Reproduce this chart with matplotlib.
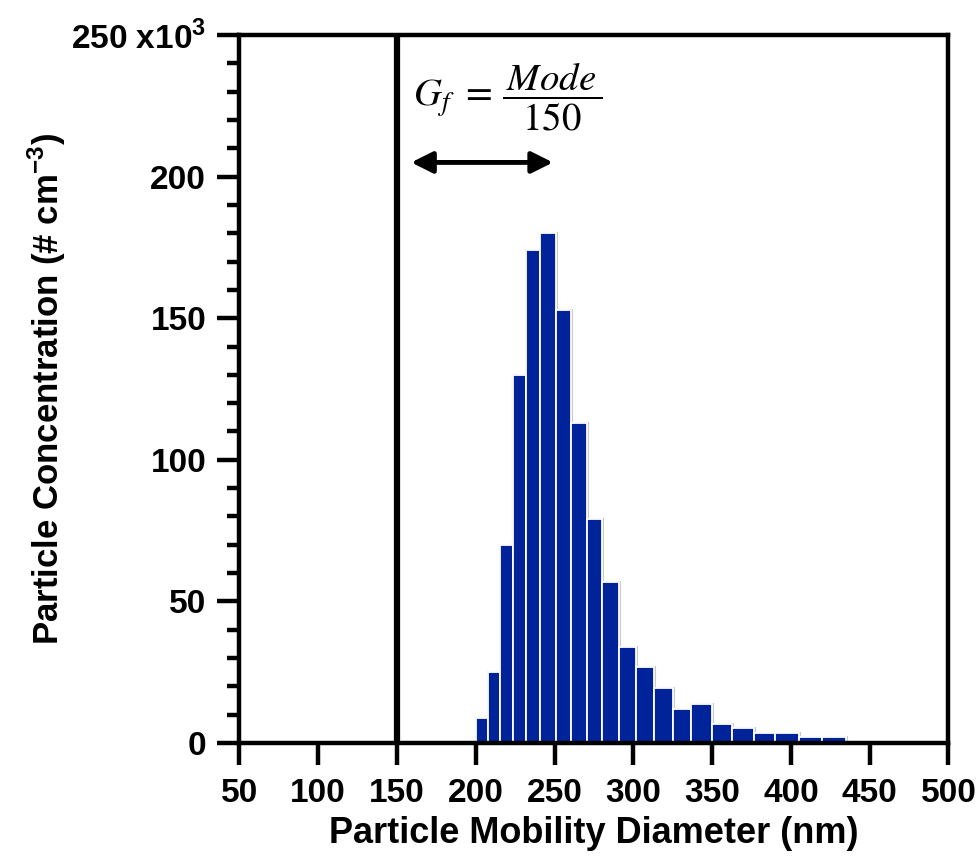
import numpy as np
import matplotlib.pyplot as plt

# SMPS size distribution
bin_edges = [192.4, 200.0, 207.6, 215.6, 223.8, 232.1, 241.0, 250.9, 260.4, 270.6,
             280.4, 290.9, 301.7, 313.1, 324.9, 336.7, 349.7, 362.7, 376.4, 390.1,
             405.0, 419.6, 435.2]
conc = [0.3, 9, 25, 70, 130, 174, 180, 153, 113, 79,
        57, 34, 27, 19.5, 12, 13.8, 6.7, 5.3, 3.5, 3.5,
        2.1, 2.1]  # x10^3 # cm^-3

cut_size = 150
arrow_x = [159, 249]
arrow_y = 205

x_ticks = [50, 100, 150, 200, 250, 300, 350, 400, 450, 500]
y_ticks = [0, 50, 100, 150, 200, 250]
y_ticklabels = ['0', '50', '100', '150', '200', '250 x10$^{\\mathregular{3}}$']

plt.rcParams['font.family'] = ['Liberation Sans', 'DejaVu Sans']

fig = plt.figure(figsize=(9.79, 8.64), dpi=100)
ax = fig.add_axes([0.2446, 0.140, 0.7242, 0.8195])

edges = np.array(bin_edges)
widths = np.diff(edges)
ax.stairs(conc, edges, color='#c8c8c8', linewidth=2.2, zorder=1)
ax.bar(edges[:-1], conc, width=widths, align='edge', color='#00239a',
       edgecolor='white', linewidth=1.3, zorder=2)

# cut-off line
ax.axvline(cut_size, color='black', linewidth=4.5, zorder=3)

# arrow + growth factor equation
ax.annotate('', xy=(arrow_x[0], arrow_y), xytext=(arrow_x[1], arrow_y),
            arrowprops=dict(arrowstyle='<|-|>', color='black', lw=3.5,
                            mutation_scale=32, shrinkA=0, shrinkB=0))
ax.text(160, 228, r'$G_f\ =\,\dfrac{\,Mode\,}{150}$', fontsize=28,
        math_fontfamily='stix', ha='left', va='center')

ax.set_xlim(50, 500)
ax.set_ylim(0, 250)
ax.set_xticks(x_ticks)
ax.set_yticks(y_ticks)
ax.set_yticklabels(y_ticklabels)
ax.set_yticks(np.arange(0, 251, 10), minor=True)

for s in ax.spines.values():
    s.set_linewidth(3.2)

ax.tick_params(axis='both', which='major', direction='out', length=16, width=3.2)
ax.tick_params(axis='y', which='minor', direction='out', length=9, width=3.2)
ax.tick_params(axis='y', labelsize=24, pad=8)
ax.tick_params(axis='x', labelsize=24, pad=9)
for lab in ax.get_xticklabels() + ax.get_yticklabels():
    lab.set_fontweight('bold')

ax.set_xlabel('Particle Mobility Diameter (nm)', fontsize=26, fontweight='bold',
              labelpad=5)
ax.set_ylabel('Particle Concentration (# cm$^{\\mathregular{-3}}$)', fontsize=25,
              fontweight='bold', labelpad=2)

fig.savefig('out.png', dpi=100)
